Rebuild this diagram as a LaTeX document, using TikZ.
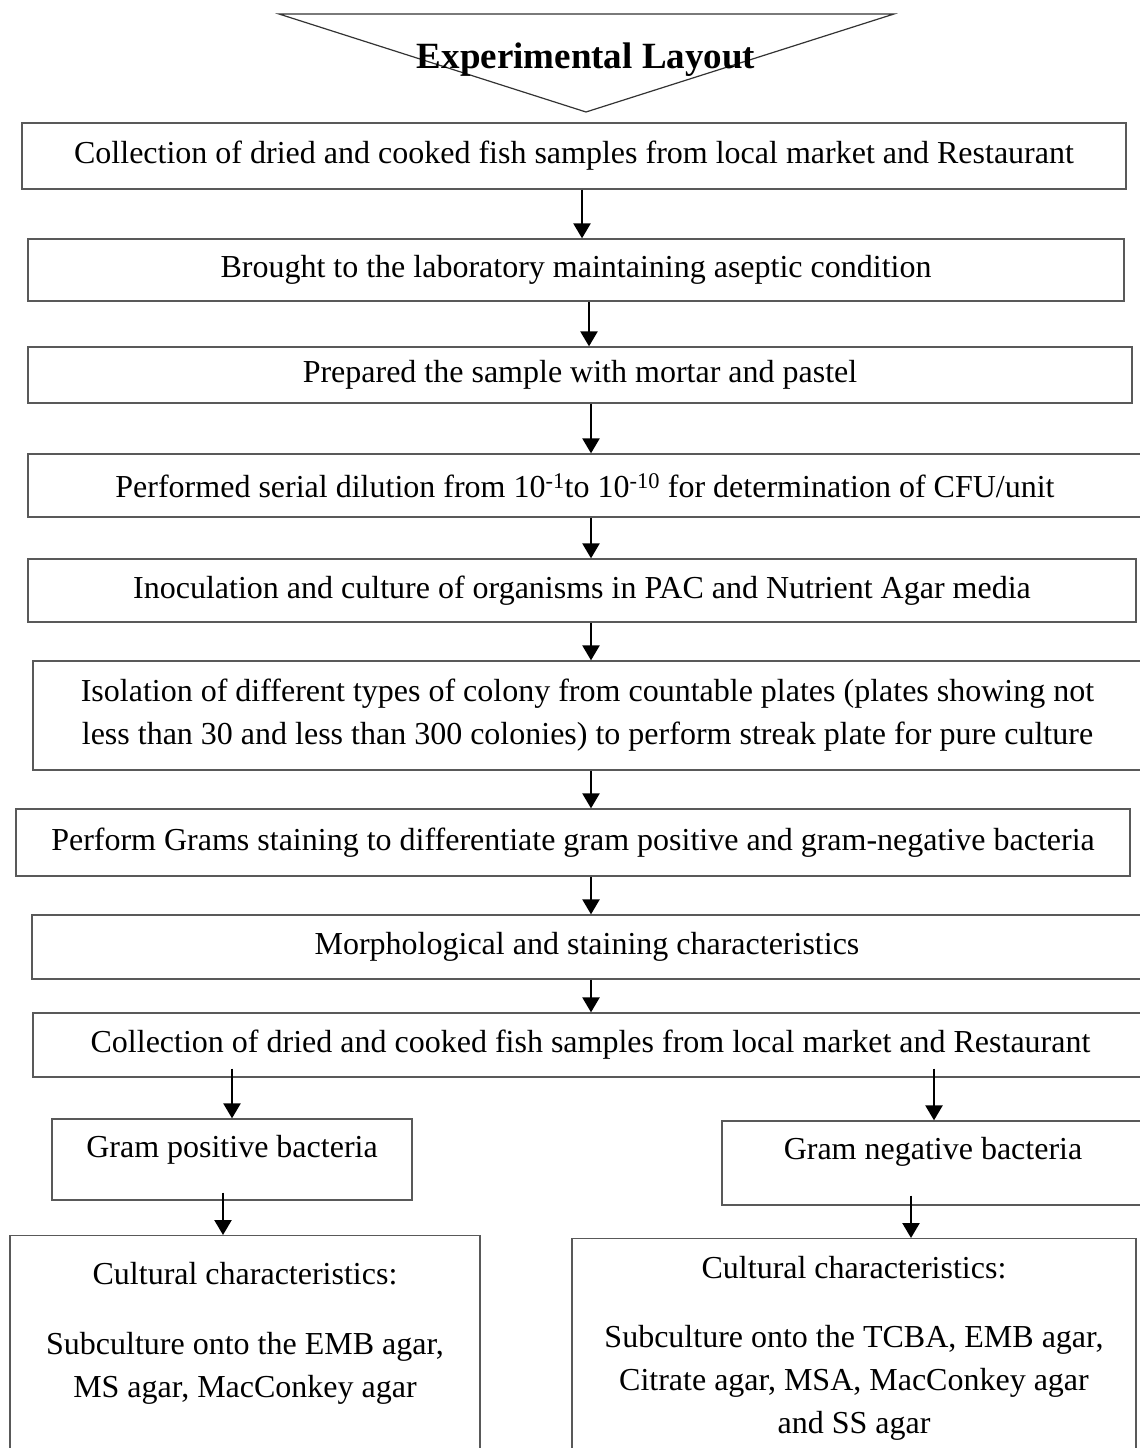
\documentclass[tikz,border=0pt]{standalone}
\usepackage{fontspec}
\setmainfont{Liberation Serif}
\usetikzlibrary{arrows.meta}
\begin{document}
\begin{tikzpicture}[x=1pt,y=-1pt,
  box/.style={draw=black!65, line width=1.3pt, inner sep=0pt, align=center,
    font=\fontsize{32}{43}\selectfont},
  arr/.style={black, line width=2.4pt, -{Triangle[width=17pt,length=15pt]}},
  tri/.style={draw=black!80, line width=1.2pt}]
\useasboundingbox (0,0) rectangle (1140,1448);
\clip (0,0) rectangle (1140,1448);

% title triangle
\draw[tri] (279,14) -- (894,14) -- (586,112) -- cycle;
\node[font=\bfseries\fontsize{37}{44}\selectfont, anchor=base, inner sep=0pt] (title) at (586,68) {Experimental Layout};

% main chain
\node[box, minimum width=1104pt, minimum height=66pt] (b1) at (574,156)
  {Collection of dried and cooked fish samples from local market and Restaurant};
\node[box, minimum width=1096pt, minimum height=62pt] (b2) at (576,270)
  {Brought to the laboratory maintaining aseptic condition};
\node[box, minimum width=1104pt, minimum height=56pt] (b3) at (580,375)
  {Prepared the sample with mortar and pastel};
\node[box, minimum width=1114pt, minimum height=63pt] (b4) at (585,485.5)
  {Performed serial dilution from 10\textsuperscript{-1}to 10\textsuperscript{-10} for determination of CFU/unit};
\node[box, minimum width=1108pt, minimum height=63pt] (b5) at (582,590.5)
  {Inoculation and culture of organisms in PAC and Nutrient Agar media};
\node[box, minimum width=1109pt, minimum height=109pt] (b6) at (587.5,715.5)
  {Isolation of different types of colony from countable plates (plates showing not\\
   less than 30 and less than 300 colonies) to perform streak plate for pure culture};
\node[box, minimum width=1114pt, minimum height=67pt] (b7) at (573,842.5)
  {Perform Grams staining to differentiate gram positive and gram-negative bacteria};
\node[box, minimum width=1110pt, minimum height=64pt] (b8) at (587,947)
  {Morphological and staining characteristics};
\node[box, minimum width=1115pt, minimum height=64pt] (b9) at (590.5,1045)
  {Collection of dried and cooked fish samples from local market and Restaurant};

% branches
\node[box, minimum width=360pt, text height=38pt, text depth=43pt] (gp) at (232,1159.5)
  {Gram positive bacteria};
\node[box, minimum width=422pt, text height=38pt, text depth=46pt] (gn) at (933,1163)
  {Gram negative bacteria};

\node[box, anchor=north] (cp) at (245,1235)
  {\parbox[t][260pt][t]{470pt}{\vspace*{27pt}\centering
   Cultural characteristics:\\[27pt]
   Subculture onto the EMB agar,\\
   MS agar, MacConkey agar}};
\node[box, anchor=north] (cn) at (854,1238)
  {\parbox[t][260pt][t]{564pt}{\vspace*{18pt}\centering
   Cultural characteristics:\\[26pt]
   Subculture onto the TCBA, EMB agar,\\
   Citrate agar, MSA, MacConkey agar\\
   and SS agar}};

% connectors
\draw[arr] (b1.south -| 582,0) -- (b2.north -| 582,0);
\draw[arr] (b2.south -| 589,0) -- (b3.north -| 589,0);
\draw[arr] (b3.south -| 591,0) -- (b4.north -| 591,0);
\draw[arr] (b4.south -| 591,0) -- (b5.north -| 591,0);
\draw[arr] (b5.south -| 591,0) -- (b6.north -| 591,0);
\draw[arr] (b6.south -| 591,0) -- (b7.north -| 591,0);
\draw[arr] (b7.south -| 591,0) -- (b8.north -| 591,0);
\draw[arr] (b8.south -| 591,0) -- (b9.north -| 591,0);
\draw[arr] ([yshift=9pt]b9.south -| 232,0) -- (gp.north -| 232,0);
\draw[arr] ([yshift=9pt]b9.south -| 934,0) -- (gn.north -| 934,0);
\draw[arr] ([yshift=8pt]gp.south -| 223,0) -- (cp.north -| 223,0);
\draw[arr] ([yshift=10pt]gn.south -| 911,0) -- (cn.north -| 911,0);
\end{tikzpicture}
\end{document}
